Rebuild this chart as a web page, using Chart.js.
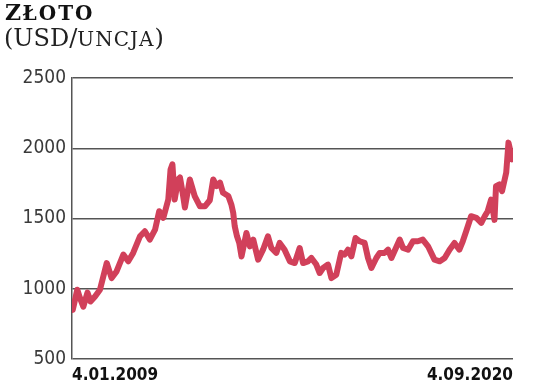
<!DOCTYPE html>
<html>
<head>
<meta charset="utf-8">
<script src="https://cdn.jsdelivr.net/npm/chart.js@4"></script>
<style>
  html, body { margin: 0; padding: 0; background: #fff; }
  #wrap { position: relative; width: 536px; height: 387px; }
  #chart { position: absolute; left: 0; top: 0; }
  .tytul { position: absolute; left: 5px; top: -6px; font-family: "DejaVu Serif", serif; font-weight: bold;
           font-size: 22px; color: #111; white-space: nowrap; letter-spacing: 1.5px; }
  .tytul .sc { font-variant: small-caps; font-size: 28px; letter-spacing: 2px; }
  .jedn { position: absolute; left: 4px; top: 19px; font-family: "DejaVu Serif", serif;
          font-size: 24px; color: #222; white-space: nowrap; }
  .jedn .sc { font-variant: small-caps; font-size: 29px; letter-spacing: 1px; }
</style>
</head>
<body>
<div id="wrap">
  <canvas id="chart" width="536" height="387"></canvas>
  <div class="tytul">Z<span class="sc">łoto</span></div>
  <div class="jedn">(USD/<span class="sc">uncja</span>)</div>
</div>
<script>
// daty jako ułamek roku
const lata = [
  2009.01, 2009.03, 2009.15, 2009.22, 2009.31, 2009.42, 2009.50, 2009.62, 2009.75, 2009.93,
  2010.06, 2010.19, 2010.37, 2010.50, 2010.63, 2010.81, 2010.94, 2011.07, 2011.21, 2011.32,
  2011.43, 2011.56, 2011.62, 2011.67, 2011.73, 2011.82, 2011.87, 2011.94, 2012.00, 2012.13,
  2012.26, 2012.40, 2012.53, 2012.66, 2012.75, 2012.84, 2012.93, 2013.01, 2013.15, 2013.23,
  2013.28, 2013.32, 2013.38, 2013.44, 2013.50, 2013.63, 2013.72, 2013.81, 2013.94, 2014.07,
  2014.20, 2014.29, 2014.42, 2014.51, 2014.64, 2014.78, 2014.91, 2015.04, 2015.13, 2015.26,
  2015.35, 2015.48, 2015.57, 2015.66, 2015.79, 2015.88, 2016.01, 2016.14, 2016.23, 2016.32,
  2016.41, 2016.52, 2016.63, 2016.76, 2016.85, 2016.94, 2017.07, 2017.16, 2017.29, 2017.38,
  2017.47, 2017.55, 2017.69, 2017.78, 2017.91, 2018.04, 2018.17, 2018.30, 2018.44, 2018.61,
  2018.75, 2018.88, 2019.01, 2019.14, 2019.27, 2019.36, 2019.45, 2019.58, 2019.72, 2019.85,
  2019.94, 2020.02, 2020.11, 2020.17, 2020.20, 2020.24, 2020.33, 2020.40, 2020.51, 2020.57,
  2020.61, 2020.66, 2020.69
];
const cena = [
  864, 850, 993, 935, 873, 973, 909, 945, 993, 1183,
  1076, 1123, 1243, 1195, 1255, 1373, 1409, 1350, 1421, 1552,
  1505, 1635, 1849, 1885, 1635, 1778, 1792, 1683, 1578, 1778,
  1659, 1587, 1587, 1630, 1778, 1730, 1755, 1683, 1660, 1600,
  1540, 1445, 1373, 1326, 1230, 1397, 1302, 1350, 1207, 1278,
  1373, 1290, 1255, 1326, 1278, 1195, 1183, 1290, 1183, 1195,
  1219, 1172, 1112, 1148, 1172, 1076, 1100, 1255, 1243, 1278,
  1231, 1361, 1338, 1326, 1219, 1148, 1219, 1255, 1255, 1278,
  1219, 1267, 1350, 1290, 1278, 1338, 1338, 1350, 1302, 1207,
  1195, 1219, 1278, 1326, 1278, 1338, 1409, 1516, 1505, 1469,
  1516, 1552, 1635, 1540, 1490, 1730, 1742, 1695, 1826, 2040,
  1993, 1921, 1945
];
const etykietyX = ["4.01.2009", "4.09.2020"];
const ticksY = [500, 1000, 1500, 2000, 2500];

const waski = "'DejaVu Sans Condensed', sans-serif";

const ctx = document.getElementById("chart");
new Chart(ctx, {
  type: "line",
  data: {
    datasets: [{
      data: lata.map((x, i) => ({ x: x, y: cena[i] })),
      borderColor: "#d1405a",
      borderWidth: 6,
      pointRadius: 0,
      tension: 0,
      borderJoinStyle: "round",
      borderCapStyle: "round"
    }]
  },
  options: {
    responsive: false,
    animation: false,
    layout: { padding: { top: 78, right: 23, left: 0, bottom: 0 } },
    plugins: { legend: { display: false }, tooltip: { enabled: false } },
    scales: {
      x: {
        type: "linear",
        min: 2009.01,
        max: 2020.69,
        afterBuildTicks: (axis) => { axis.ticks = [{ value: axis.min }, { value: axis.max }]; },
        afterFit: (axis) => { axis.height = 28; },
        grid: { display: false, drawTicks: false },
        border: { display: false },
        ticks: {
          align: "inner",
          maxRotation: 0,
          padding: 6,
          color: "#111",
          font: { family: waski, size: 17, weight: "bold" },
          callback: (v, i) => etykietyX[i]
        }
      },
      y: {
        min: 500,
        max: 2500,
        afterBuildTicks: (axis) => { axis.ticks = ticksY.map(v => ({ value: v })); },
        afterFit: (axis) => { axis.width = 72; },
        grid: { color: "#555", lineWidth: 1.5, drawTicks: false },
        border: { display: true, color: "#555", width: 1.5 },
        ticks: {
          padding: 6,
          color: "#3a3a3a",
          font: { family: waski, size: 19 },
          callback: (v) => String(v)
        }
      }
    }
  }
});
</script>
</body>
</html>
